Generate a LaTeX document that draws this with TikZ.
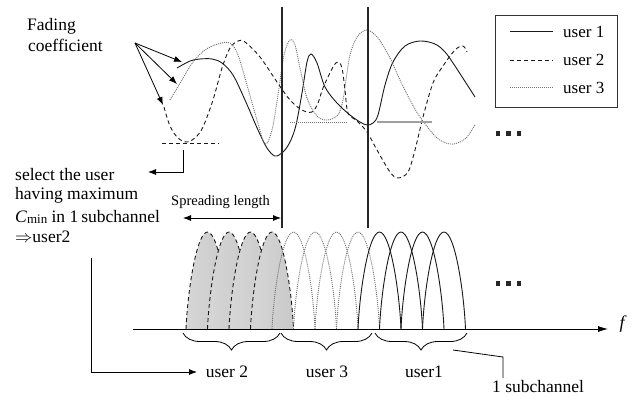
\documentclass[tikz,border=0pt]{standalone}
\usepackage{fontspec}
\setmainfont{Liberation Serif}
\usetikzlibrary{arrows.meta,decorations.pathreplacing}
\begin{document}
\begin{tikzpicture}[x=1pt,y=-1pt,
  txt/.style={font=\fontsize{17.5}{21}\selectfont, inner sep=0pt, anchor=base west},
  legtxt/.style={font=\fontsize{17}{20}\selectfont, inner sep=0pt, anchor=base west},
  u1/.style={black!90, line width=0.9pt},
  u2/.style={black!90, line width=0.9pt, dash pattern=on 4pt off 3pt},
  u3/.style={black!55, line width=0.9pt, dash pattern=on 1pt off 1pt},
  arr/.style={-{Latex[length=8pt,width=6pt]}, line width=0.8pt},
  thick line/.style={line width=2pt, black!85}]
\useasboundingbox (0,0) rectangle (638,397);

% hump path helpers
\newcommand\humppath[1]{%
  \pgfmathsetmacro{\xa}{#1}%
  \pgfmathsetmacro{\xb}{\xa+21.5}%
  \pgfmathsetmacro{\xc}{\xa+43}%
  \pgfmathsetmacro{\ca}{\xa+1.7}%
  \pgfmathsetmacro{\cb}{\xb-10.75}%
  \pgfmathsetmacro{\cc}{\xb+10.75}%
  \pgfmathsetmacro{\cd}{\xc-1.7}%
}

% ---------- spectrum humps ----------
\foreach \i in {0,1,2,3}{
  \humppath{186+21.5*\i}
  \shade[left color=gray!32, middle color=gray!5, right color=gray!42]
    (\xa,329) .. controls (\ca,290) and (\cb,232) .. (\xb,232)
    .. controls (\cc,232) and (\cd,290) .. (\xc,329) -- cycle;
  \draw[u2] (\xa,329) .. controls (\ca,290) and (\cb,232) .. (\xb,232)
    .. controls (\cc,232) and (\cd,290) .. (\xc,329);
}
\foreach \i in {4,5,6,7}{
  \humppath{186+21.5*\i}
  \draw[u3] (\xa,329) .. controls (\ca,290) and (\cb,232) .. (\xb,232)
    .. controls (\cc,232) and (\cd,290) .. (\xc,329);
}
\foreach \i in {8,9,10,11}{
  \humppath{186+21.5*\i}
  \draw[u1] (\xa,329) .. controls (\ca,290) and (\cb,232) .. (\xb,232)
    .. controls (\cc,232) and (\cd,290) .. (\xc,329);
}

% frequency axis
\coordinate (ax0) at (133,329);
\coordinate (ax1) at (608,329);
\draw[-{Latex[length=10pt,width=6pt]}, line width=0.8pt] (ax0) -- (ax1);
\node[font=\fontsize{18}{20}\selectfont\itshape, inner sep=0pt] (flab) at (622,324) {f};

% ---------- fading curves ----------
\draw[u1] plot[smooth, tension=0.55] coordinates {
 (177,68) (190,61) (200,59) (212,59) (222,63) (233,75) (245,100) (258,130)
 (267,148) (275,156) (283,152) (290,142) (296,125) (302,93) (307,62) (311,54)
 (317,63) (325,87) (337,103) (350,115) (360,122) (367,125) (373,123) (378,115)
 (385,85) (393,62) (405,46) (420,41) (435,44) (445,52) (455,66) (475,97)};
\draw[u2] plot[smooth, tension=0.55] coordinates {
 (164,107) (170,126) (178,138) (187,142) (196,137) (203,127) (213,100) (222,68)
 (230,48) (238,41) (245,42) (260,57) (277,82) (290,100) (302,110) (312,112)
 (318,103) (323,88) (333,67) (338,62) (342,68) (345,90) (348,113) (357,121)
 (367,132) (377,150) (390,172) (398,178) (408,172) (415,150) (423,117) (433,83)
 (443,66) (455,50) (463,46) (467,52)};
\draw[u3] plot[smooth, tension=0.55] coordinates {
 (170,100) (182,80) (193,62) (205,50) (218,44) (230,43) (238,55) (247,85)
 (257,120) (265,144) (272,130) (278,95) (284,55) (290,40) (295,45) (300,68)
 (307,98) (317,116) (327,120) (338,115) (343,100) (346,80) (350,55) (357,37)
 (367,30) (378,38) (390,58) (400,80) (410,100) (420,117) (437,138) (450,144)
 (460,142) (467,137) (475,125)};

% threshold lines
\coordinate (t2a) at (162,143); \coordinate (t2b) at (219,143);
\draw[u2] (t2a) -- (t2b);
\coordinate (t3a) at (290,122); \coordinate (t3b) at (347,122);
\draw[u3] (t3a) -- (t3b);
\coordinate (t1a) at (377,122); \coordinate (t1b) at (432,122);
\draw[gray!75, line width=1.2pt] (t1a) -- (t1b);

% thick vertical lines
\coordinate (v1a) at (282,7); \coordinate (v1b) at (282,228);
\coordinate (v2a) at (368,7); \coordinate (v2b) at (368,228);
\draw[thick line] (v1a) -- (v1b);
\draw[thick line] (v2a) -- (v2b);

% ---------- legend ----------
\node[draw=black!80, line width=0.8pt, minimum width=122pt, minimum height=92pt,
      anchor=north west, inner sep=0pt] (legend) at (495,15) {};
\coordinate (l1a) at (510,31); \coordinate (l1b) at (553,31);
\coordinate (l2a) at (510,60); \coordinate (l2b) at (553,60);
\coordinate (l3a) at (510,87); \coordinate (l3b) at (553,87);
\draw[u1] (l1a) -- (l1b);
\draw[u2] (l2a) -- (l2b);
\draw[u3] (l3a) -- (l3b);
\node[legtxt] (lt1) at (563,37) {user 1};
\node[legtxt] (lt2) at (563,65) {user 2};
\node[legtxt] (lt3) at (563,93) {user 3};

% ellipsis dots
\foreach \x in {495.5,506,516.5}{
  \fill[black!85] (\x,131) rectangle ++(4.5,4.5);
  \fill[black!85] (\x,281) rectangle ++(4.5,4.5);
}

% ---------- fading coefficient ----------
\node[txt] (fad1) at (27,30) {Fading};
\node[txt] (fad2) at (28,51) {coefficient};
\coordinate (fc) at (135,43);
\coordinate (fcA) at (182,62);
\coordinate (fcB) at (177,84);
\coordinate (fcC) at (163,105);
\draw[arr] (fc) -- (fcA);
\draw[arr] (fc) -- (fcB);
\draw[arr] (fc) -- (fcC);

% ---------- selection text ----------
\node[txt] (sel1) at (15,180) {select the user};
\node[txt] (sel2) at (15,199) {having maximum};
\node[txt] (sel3) at (15,222) {\textit{C}\raisebox{-1pt}{\fontsize{13}{14}\selectfont min} in 1\,subchannel};
\node[txt] (sel4) at (15,242) {$\Rightarrow$user2};
\coordinate (selA) at (183,150);
\coordinate (selB) at (148,172);
\draw[arr] (selA) |- (selB);

% spreading length
\node[font=\fontsize{14.5}{16}\selectfont, inner sep=0pt, anchor=base west] (spr) at (171,205) {Spreading length};
\coordinate (spA) at (183,218);
\coordinate (spB) at (281,218);
\draw[{Latex[length=8pt,width=6pt]}-{Latex[length=8pt,width=6pt]}, line width=0.8pt] (spA) -- (spB);

% ---------- braces and labels ----------
\draw[decorate, decoration={brace, mirror, amplitude=17pt}, line width=0.8pt] (183,333) -- (280,333);
\draw[decorate, decoration={brace, mirror, amplitude=17pt}, line width=0.8pt] (281,333) -- (372,333);
\draw[decorate, decoration={brace, mirror, amplitude=17pt}, line width=0.8pt] (375,333) -- (467,333);
\node[txt, anchor=base] (bu2) at (227,377) {user 2};
\node[txt, anchor=base] (bu3) at (327,377) {user 3};
\node[txt, anchor=base] (bu1) at (424,377) {user1};
\node[txt] (sub) at (492,392) {1 subchannel};

\coordinate (bA) at (91,258);
\coordinate (bB) at (197,372);
\draw[arr] (bA) |- (bB);

\coordinate (scA) at (453,350);
\coordinate (scB) at (503,357);
\coordinate (scC) at (503,378);
\draw[line width=0.8pt] (scA) -- (scB) -- (scC);
\end{tikzpicture}
\end{document}
